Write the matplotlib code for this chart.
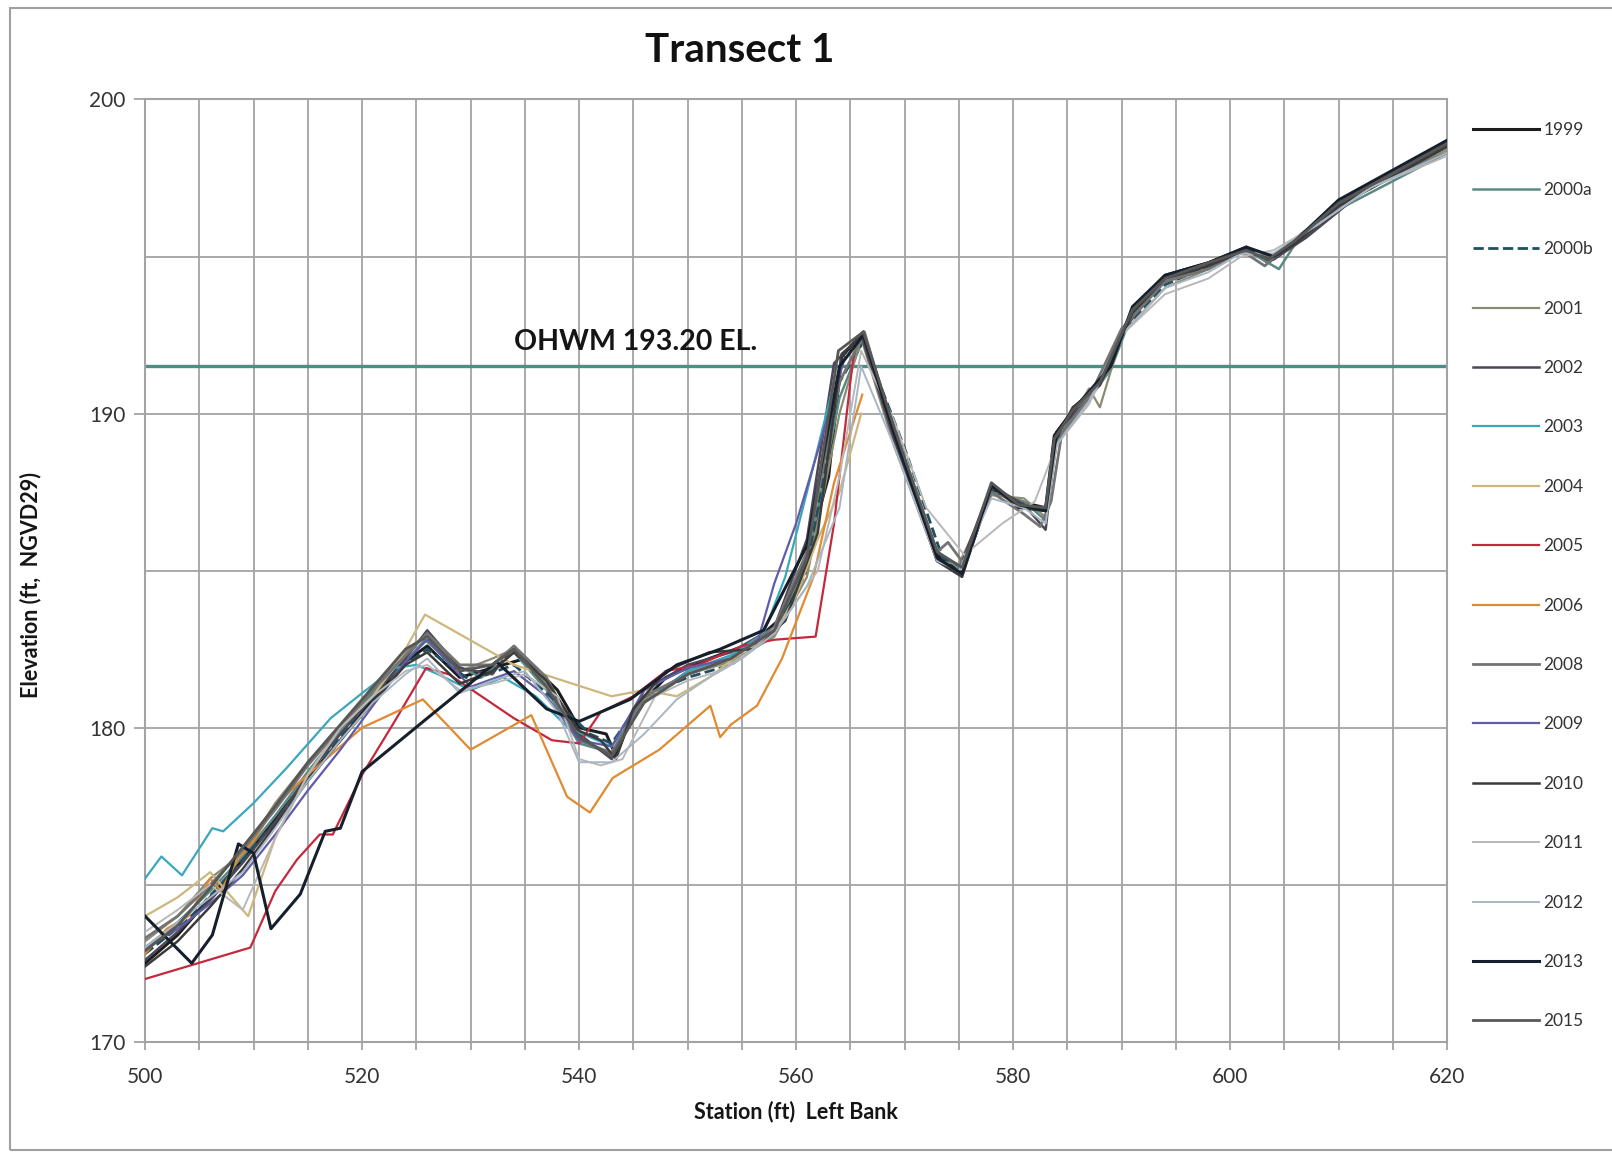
import matplotlib
matplotlib.use("Agg")
import matplotlib.pyplot as plt
from matplotlib.patches import Rectangle

plt.rcParams['font.family'] = ['Lato', 'DejaVu Sans']

# ---- data (station ft, elevation ft) ----
years = ["1999", "2000a", "2000b", "2001", "2002", "2003", "2004", "2005",
         "2006", "2008", "2009", "2010", "2011", "2012", "2013", "2015"]

x_1999 = [500, 503, 506, 509, 512, 515, 518, 521, 524, 526, 529, 532, 535, 538, 540, 542.5, 543.4, 545, 548, 552, 556, 559, 561, 563, 564.2, 566.2, 569, 573, 575.3, 578, 580.5, 583, 583.8, 585.5, 588, 591, 594, 598, 601.5, 603.5, 606, 610, 620]
y_1999 = [172.5, 173.4, 174.6, 175.8, 177.1, 178.4, 179.6, 180.9, 182.1, 182.6, 181.6, 181.9, 182.2, 181.2, 180.0, 179.8, 179.1, 180.5, 181.6, 182.2, 182.7, 183.6, 185.5, 188.0, 191.8, 192.6, 189.5, 185.5, 184.9, 187.6, 187.2, 187.0, 189.3, 190.1, 191.0, 193.3, 194.4, 194.8, 195.3, 194.8, 195.5, 196.7, 198.6]

x_2000a = [500, 503, 506, 509, 512, 515, 518, 521, 524, 525.8, 528, 531, 534, 537, 540, 543, 546, 550, 554, 558, 561, 564, 566.2, 569, 573, 575, 578, 581, 583, 584, 586, 589, 591, 594, 598, 601.5, 604.5, 606, 610, 620]
y_2000a = [173.0, 173.8, 174.8, 175.9, 177.2, 178.6, 179.9, 181.1, 182.1, 182.8, 182.1, 181.6, 182.4, 181.2, 179.5, 179.2, 180.8, 181.8, 182.3, 183.1, 185.2, 190.5, 192.4, 189.3, 185.6, 185.1, 187.5, 187.2, 186.6, 189.1, 190.0, 191.4, 193.2, 194.2, 194.7, 195.2, 194.6, 195.4, 196.5, 198.3]

x_2000b = [500, 504, 508, 512, 516, 520, 524, 526, 530, 534, 538, 541, 543, 546, 550, 554, 558, 561, 564, 566.2, 570, 573.5, 575.5, 578, 581, 583, 584, 587, 590, 594, 598, 601, 604, 607, 612, 620]
y_2000b = [172.8, 173.9, 175.4, 177.0, 178.8, 180.6, 182.0, 182.5, 181.5, 182.0, 180.8, 179.8, 179.5, 181.0, 181.6, 182.0, 183.0, 185.0, 191.0, 192.3, 188.9, 185.4, 185.1, 187.6, 187.0, 187.0, 189.2, 190.5, 192.6, 194.1, 194.7, 195.2, 195.0, 195.7, 197.1, 198.5]

x_2001 = [500, 503, 506, 509, 512, 515, 518, 521, 524, 526, 529, 532, 534, 537, 540, 543, 546, 550, 554, 558, 561, 564, 566, 569, 573, 575, 578, 581, 583, 584, 587, 588, 590, 594, 598, 601, 604, 607, 612, 620]
y_2001 = [173.2, 174.0, 175.2, 176.0, 177.6, 178.9, 180.0, 181.3, 182.4, 183.0, 181.8, 182.2, 182.5, 181.4, 179.7, 179.1, 180.9, 181.7, 182.1, 182.9, 184.8, 190.0, 192.4, 189.0, 185.3, 185.2, 187.4, 187.3, 186.7, 189.0, 190.8, 190.2, 192.5, 194.0, 194.6, 195.1, 195.0, 195.6, 197.0, 198.4]

x_2002 = [500, 503, 506, 509, 512, 515, 518, 521, 524, 526, 529, 532, 534, 537, 540, 543, 546, 550, 554, 558, 561, 563.5, 566, 569, 573, 575, 578, 581, 583, 584, 587, 590, 594, 598, 601, 604, 607, 612, 620]
y_2002 = [172.6, 173.5, 174.5, 175.7, 177.0, 178.5, 179.8, 181.0, 182.2, 183.1, 181.9, 181.7, 182.6, 181.5, 179.8, 179.0, 181.2, 182.0, 182.4, 183.2, 186.0, 191.6, 192.5, 189.2, 185.3, 185.0, 187.7, 187.1, 186.3, 189.4, 190.5, 192.6, 194.3, 194.7, 195.2, 194.9, 195.6, 197.0, 198.5]

x_2003 = [500, 501.5, 503.4, 506.2, 507.2, 510, 513, 517.1, 520, 523, 525, 527, 530, 533, 536, 539, 541, 543, 546, 550, 554, 557, 559, 561, 563.5]
y_2003 = [175.2, 175.9, 175.3, 176.8, 176.7, 177.6, 178.7, 180.3, 181.1, 181.9, 182.0, 181.7, 181.2, 181.6, 181.0, 180.0, 179.7, 179.4, 180.8, 181.8, 182.3, 183.0, 184.8, 187.5, 191.0]

x_2004 = [500, 503, 506, 509.5, 512, 515, 518, 521, 523.5, 525.8, 534, 543, 546, 549, 552, 555, 558, 560, 562, 564, 566]
y_2004 = [174.0, 174.6, 175.4, 174.0, 176.5, 178.5, 180.0, 181.0, 182.2, 183.6, 182.0, 181.0, 181.2, 181.0, 181.6, 182.4, 183.0, 184.2, 186.0, 187.5, 190.0]

x_2005 = [500, 509.7, 512, 514, 516.1, 517.3, 520, 523, 525.9, 528, 531, 534, 537.5, 540, 542, 545, 548, 551, 555, 558, 561.8, 563.5, 565.3]
y_2005 = [172.0, 173.0, 174.8, 175.8, 176.6, 176.6, 178.5, 180.2, 181.9, 181.7, 181.0, 180.3, 179.6, 179.5, 180.5, 181.0, 181.8, 182.0, 182.6, 182.8, 182.9, 186.5, 191.9]

x_2006 = [500, 502, 504, 506, 507, 508.5, 510, 512, 514, 516, 518, 520, 522.5, 525.6, 530, 535.6, 538.9, 541, 543.1, 547.4, 552.1, 553, 554, 556.4, 558.7, 561.6, 563.5, 566.1]
y_2006 = [172.8, 173.6, 174.0, 175.2, 174.8, 175.8, 176.4, 177.5, 178.2, 178.8, 179.4, 180.0, 180.4, 180.9, 179.3, 180.4, 177.8, 177.3, 178.4, 179.3, 180.7, 179.7, 180.1, 180.7, 182.2, 184.8, 187.8, 190.6]

x_2008 = [500, 503, 506, 509, 512, 515, 518, 521, 524, 526, 529, 532, 534, 537, 540, 543, 546, 550, 554, 558, 561, 564, 566.3, 569, 573, 574, 575.5, 578, 581, 582.5, 583.5, 584.5, 587, 590, 594, 598, 601, 603.2, 605, 608, 613, 620]
y_2008 = [173.3, 174.0, 175.0, 176.1, 177.4, 178.8, 180.0, 181.2, 182.3, 183.0, 182.0, 182.0, 182.6, 181.6, 179.6, 179.2, 181.0, 181.7, 182.2, 183.2, 185.6, 191.0, 192.6, 189.4, 185.6, 185.9, 185.2, 187.5, 186.8, 186.4, 187.2, 189.4, 190.5, 192.7, 194.2, 194.6, 195.2, 194.7, 195.3, 196.1, 197.3, 198.3]

x_2009 = [500, 503, 506, 509, 512, 515, 518, 521, 524, 526, 530, 534, 537, 540, 543, 546, 550, 554, 556.5, 558, 560, 562, 564.5]
y_2009 = [173.0, 173.6, 174.4, 175.3, 176.6, 178.0, 179.3, 180.7, 182.1, 182.8, 181.3, 181.8, 181.0, 179.6, 179.4, 181.2, 181.9, 182.2, 182.8, 184.6, 186.5, 188.8, 191.8]

x_2010 = [500, 503, 506, 509, 512, 515, 518, 521, 524, 526, 529, 532, 534, 537, 540, 542, 543.4, 545, 548, 552, 556, 559, 562, 564.2, 566.2, 569, 573, 575.3, 578, 580.5, 583, 583.8, 585.5, 588, 591, 594, 598, 601.5, 603.5, 606, 610, 620]
y_2010 = [172.4, 173.2, 174.3, 175.5, 176.9, 178.3, 179.6, 180.8, 182.0, 182.4, 181.4, 181.8, 182.4, 181.5, 179.9, 179.6, 179.0, 180.6, 181.8, 182.4, 182.5, 183.4, 186.2, 191.9, 192.5, 189.4, 185.3, 184.8, 187.7, 187.0, 186.9, 189.1, 190.2, 190.9, 193.2, 194.3, 194.7, 195.2, 194.9, 195.4, 196.6, 198.5]

x_2011 = [500, 503, 506, 509, 512, 515, 518, 521, 524, 526, 529, 532, 535, 538, 540, 542, 544, 547, 550, 553, 556, 559, 562, 564, 566, 569, 572, 575.5, 579, 582, 584, 587, 590, 594, 598, 601, 604, 608, 613, 620]
y_2011 = [173.5, 174.2, 175.0, 174.2, 176.5, 178.5, 180.0, 181.0, 181.8, 182.0, 181.2, 181.4, 181.7, 181.0, 179.0, 178.8, 179.0, 181.0, 181.5, 181.8, 182.5, 183.5, 185.0, 188.0, 192.0, 189.8, 187.0, 185.5, 186.5, 187.2, 189.0, 190.3, 192.5, 193.8, 194.3, 195.0, 195.2, 196.0, 197.2, 198.2]

x_2012 = [500, 503, 506, 509, 512, 515, 518, 521, 524, 526, 529, 532, 535, 538, 540, 543, 546, 549, 552, 555, 558, 561, 564, 566, 569, 573, 575, 578, 581, 583, 584, 587, 590, 594, 598, 601, 604, 608, 613, 620]
y_2012 = [173.0, 173.8, 174.6, 175.4, 176.8, 178.3, 179.6, 180.8, 181.7, 182.2, 181.1, 181.5, 181.8, 180.5, 178.9, 178.9, 179.8, 180.9, 181.6, 182.2, 183.0, 184.5, 187.0, 191.5, 189.0, 185.3, 185.0, 187.3, 187.0, 186.5, 189.0, 190.4, 192.5, 194.0, 194.5, 195.1, 195.1, 196.0, 197.2, 198.3]

x_2013 = [500, 502, 504.3, 506.2, 508.6, 510, 511.6, 514.3, 516.6, 518, 520, 526, 532.4, 537, 540, 544.7, 549, 553, 557, 561, 564, 566.2, 569, 573, 575.3, 578, 580.5, 583, 584, 586, 589, 591, 594, 598, 601.5, 604, 606, 610, 620]
y_2013 = [174.0, 173.3, 172.5, 173.4, 176.3, 176.0, 173.6, 174.7, 176.7, 176.8, 178.6, 180.3, 182.1, 180.6, 180.2, 180.9, 182.0, 182.5, 183.1, 185.8, 191.5, 192.5, 189.4, 185.4, 184.9, 187.7, 187.1, 186.9, 189.4, 190.3, 191.5, 193.4, 194.4, 194.8, 195.3, 195.0, 195.5, 196.8, 198.7]

x_2015 = [500, 503, 506, 509, 512, 515, 518, 521, 524, 526, 529, 532, 534, 537, 540, 543, 546, 550, 554, 558, 561, 563.9, 566.2, 569, 573, 575.3, 578, 580.5, 583, 583.8, 585.5, 588, 591, 594, 598, 601.5, 603.5, 606, 610, 620]
y_2015 = [172.9, 173.7, 174.9, 176.2, 177.5, 178.9, 180.1, 181.3, 182.5, 182.9, 181.8, 182.0, 182.5, 181.3, 179.7, 179.1, 180.8, 181.7, 182.2, 183.1, 185.4, 192.0, 192.6, 189.6, 185.6, 185.1, 187.8, 187.1, 187.0, 189.2, 190.1, 191.0, 193.3, 194.3, 194.8, 195.2, 194.9, 195.5, 196.7, 198.6]

stations = [x_1999, x_2000a, x_2000b, x_2001, x_2002, x_2003, x_2004, x_2005,
            x_2006, x_2008, x_2009, x_2010, x_2011, x_2012, x_2013, x_2015]
elevations = [y_1999, y_2000a, y_2000b, y_2001, y_2002, y_2003, y_2004, y_2005,
              y_2006, y_2008, y_2009, y_2010, y_2011, y_2012, y_2013, y_2015]

ohwm_elev = 191.5   # where the OHWM line sits on the chart
ohwm_label = "OHWM 193.20 EL."

colors = ["#1c1c1c", "#5b8a85", "#1f4f5e", "#8b8a72", "#4d4656", "#3aa7bb",
          "#cdb77c", "#c4283c", "#e08a32", "#747474", "#615ba8", "#3b3b3b",
          "#b8b8b8", "#a8b6c4", "#16202c", "#575757"]
widths = [2.2, 1.8, 2.0, 1.6, 1.8, 1.6, 1.6, 1.6, 1.6, 2.0, 1.6, 1.8,
          1.4, 1.4, 2.2, 2.0]
styles = ["-", "-", "--", "-", "-", "-", "-", "-", "-", "-", "-", "-",
          "-", "-", "-", "-"]

fig = plt.figure(figsize=(16.12, 11.55), dpi=100)
fig.patches.append(Rectangle((0.006, 0.004), 1.2, 0.989, transform=fig.transFigure,
                             fill=False, edgecolor="#a0a0a0", linewidth=1.5))
ax = fig.add_axes([0.090, 0.098, 0.8077, 0.8159])

grid_c = "#a3a3a3"
ax.set_xlim(500, 620)
ax.set_ylim(170, 200)
ax.set_xticks(range(500, 621, 20))
ax.set_xticks(range(500, 621, 5), minor=True)
ax.set_yticks(range(170, 201, 10))
ax.set_yticks(range(170, 201, 5), minor=True)
ax.grid(True, which="both", color=grid_c, linewidth=1.3)
ax.set_axisbelow(True)
for s in ax.spines.values():
    s.set_color(grid_c)
    s.set_linewidth(1.5)
ax.tick_params(axis="x", which="both", length=6, color=grid_c, width=1.3,
               labelsize=15, labelcolor="#333333", pad=12)
ax.tick_params(axis="y", which="major", length=8, color=grid_c, width=1.3,
               labelsize=15, labelcolor="#333333", pad=6)
ax.tick_params(axis="y", which="minor", length=0)

ax.axhline(ohwm_elev, color="#4e8d84", linewidth=2.4, zorder=2)
ax.text(534.0, ohwm_elev + 0.35, ohwm_label, fontsize=20.5, fontweight="bold",
        color="#151515", va="bottom", ha="left")

for yr, xs, ys, c, w, ls in zip(years, stations, elevations, colors, widths, styles):
    ax.plot(xs, ys, color=c, linewidth=w, linestyle=ls, label=yr, zorder=3)

ax.set_xlabel("Station (ft)  Left Bank", fontsize=15.5, fontweight="bold",
              color="#151515", labelpad=10)
ax.set_ylabel("Elevation (ft,  NGVD29)", fontsize=15.5, fontweight="bold",
              color="#151515")
ax.yaxis.set_label_coords(-0.080, 0.485)
fig.text(0.459, 0.956, "Transect 1", fontsize=29, fontweight="bold",
         ha="center", va="center", color="#111111")

leg = ax.legend(loc="upper left", bbox_to_anchor=(0.9095, 0.900),
                bbox_transform=fig.transFigure, frameon=False, fontsize=12.5,
                handlelength=3.8, handletextpad=0.25, labelspacing=2.5,
                borderaxespad=0)
for t in leg.get_texts():
    t.set_color("#333333")

fig.savefig("out.png", dpi=100)
